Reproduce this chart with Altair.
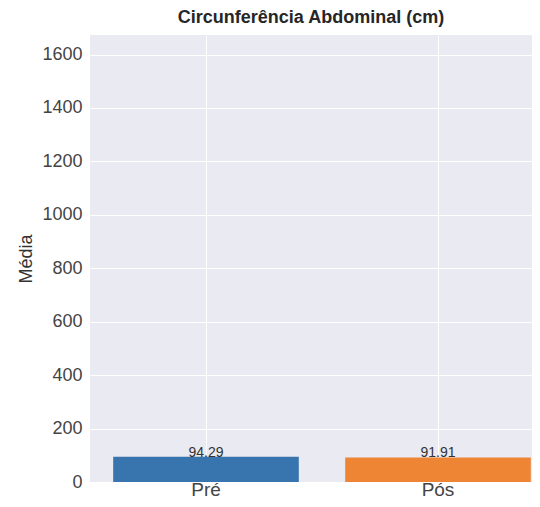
import altair as alt
import pandas as pd

categories = ["Pré", "Pós"]
values = [94.29, 91.91]
labels = ["94.29", "91.91"]
colors = ["#3874ae", "#ee8534"]

df = pd.DataFrame({"cat": categories, "val": values, "lab": labels, "color": colors})

FONT = "Liberation Sans"
xscale = alt.Scale(range=[0, 464], paddingInner=0.2, paddingOuter=0.1)

x = alt.X("cat:N", sort=categories, title=None, scale=xscale,
          axis=alt.Axis(labelAngle=0, labelFontSize=19, labelColor="#444444", labelFont=FONT,
                        labelBaseline="alphabetic", ticks=False, domain=False, grid=True,
                        gridColor="white", gridWidth=1, labelPadding=13, bandPosition=0.5))
y = alt.Y("val:Q", title="Média",
          scale=alt.Scale(domain=[0, 1673], nice=False, zero=True),
          axis=alt.Axis(values=list(range(0, 1601, 200)), format="d", labelFontSize=18,
                        labelColor="#444444", labelFont=FONT, ticks=False, domain=False,
                        grid=True, gridColor="white", gridWidth=1, labelPadding=8,
                        titleFont=FONT, titleFontSize=18, titleFontWeight="normal",
                        titleColor="#333333", titlePadding=6))

bars = alt.Chart(df).mark_bar().encode(
    x=x, y=y, color=alt.Color("color:N", scale=None)
)
text = alt.Chart(df).mark_text(baseline="alphabetic", align="center", fontSize=14,
                                font=FONT, color="#333333").encode(
    x=alt.X("cat:N", sort=categories, scale=xscale),
    y="val:Q", text="lab:N")

chart = (bars + text).properties(
    width=442, height=447,
    autosize=alt.AutoSizeParams(type="none"),
    padding={"left": 82, "top": 27, "right": 0, "bottom": 17},
    title=alt.TitleParams("Circunferência Abdominal (cm)", font=FONT, fontSize=18,
                          fontWeight="bold", color="#262626", anchor="middle", offset=8),
).configure_view(fill="#EAEAF2", stroke=None)

chart.save("out.html", embed_options={"renderer": "svg", "actions": False})
